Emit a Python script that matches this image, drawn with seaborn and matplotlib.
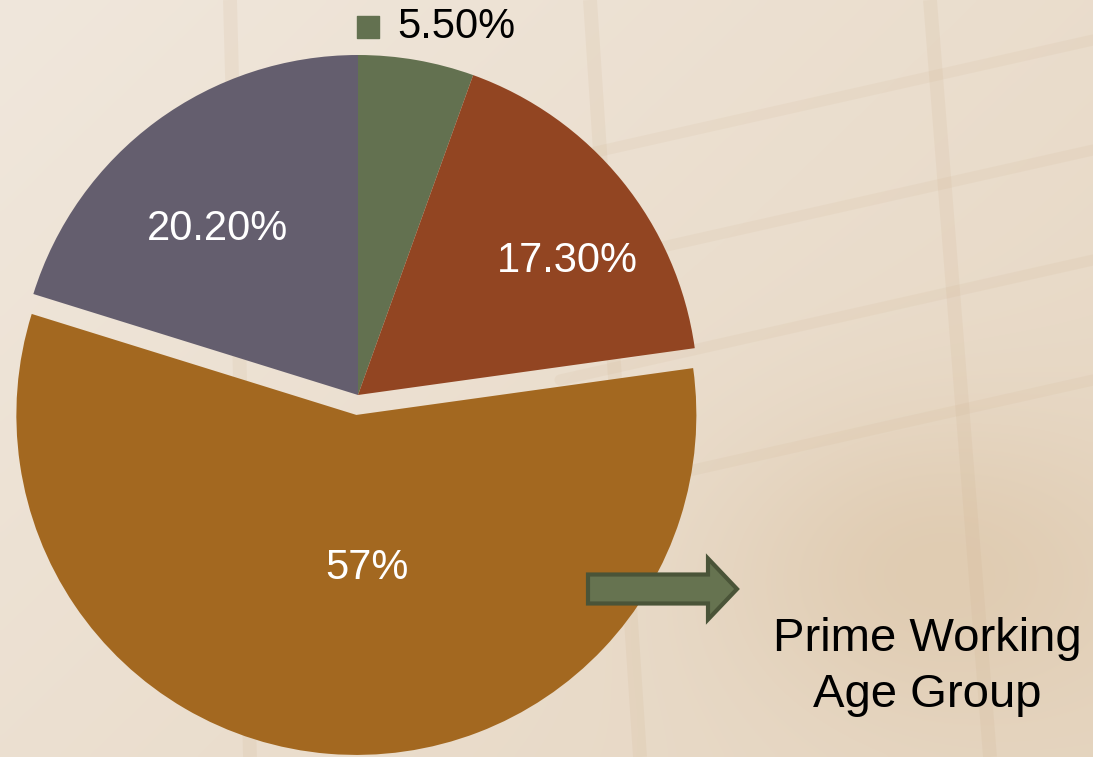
import matplotlib

matplotlib.use("Agg")
import matplotlib.pyplot as plt
import matplotlib.patches as mpatches
import numpy as np
import seaborn as sns

# ----------------------------------------------------------------------
# Data
# ----------------------------------------------------------------------
shares = [5.5, 17.3, 57.0, 20.2]
share_labels = ["5.50%", "17.30%", "57%", "20.20%"]
slice_colors = ["#637150", "#924522", "#A36820", "#645E6E"]
explode_px = [0, 0, 20, 0]  # matplotlib explode is in data units (pixels here)
callout_text = "Prime Working\nAge Group"

# figure geometry in pixels (1093 x 757 canvas)
W, H = 1093, 757
PIE_CENTER = (358, H - 395)
PIE_RADIUS = 340

sns.set_theme(style="white")
plt.rcParams["font.family"] = ["Liberation Sans", "DejaVu Sans"]

fig = plt.figure(figsize=(W / 100, H / 100), dpi=100)
ax = fig.add_axes([0, 0, 1, 1])

# soft beige backdrop (stands in for the blurred photo)
yy, xx = np.mgrid[0:1:200j, 0:1:300j]
shade = 0.35 * xx + 0.25 * yy + 0.45 * np.exp(-((xx - 0.85) ** 2 + (yy - 0.75) ** 2) / 0.04)
light = np.array([240, 231, 220]) / 255
dark = np.array([224, 204, 178]) / 255
bg = light + (dark - light) * np.clip(shade / shade.max(), 0, 1)[..., None]
ax.imshow(bg, extent=[0, W, 0, H], origin="upper", zorder=0, interpolation="bicubic")
for x0, x1 in [(590, 640), (930, 990), (230, 250)]:
    ax.plot([x0, x1], [H, 0], color="#C9A882", alpha=0.12, lw=10, zorder=0.5,
            solid_capstyle="butt")
for y0 in [80, 190, 300, 420]:
    ax.plot([560, W], [H - y0 - 80, H - y0 + 40], color="#C9A882", alpha=0.10, lw=8, zorder=0.5)

wedges, _ = ax.pie(
    shares,
    colors=slice_colors,
    explode=explode_px,
    startangle=90,
    counterclock=False,
    center=PIE_CENTER,
    radius=PIE_RADIUS,
    frame=True,
    wedgeprops={"linewidth": 0},
)
ax.set_xlim(0, W)
ax.set_ylim(0, H)
ax.set_aspect("equal")
ax.axis("off")

# in-slice labels: radial distance and angular nudge per slice
label_dist = [None, 0.73, 0.45, 0.64]
label_nudge = [0, -6.5, 8.8, 4.0]
for wedge, text, dist, nudge in zip(wedges, share_labels, label_dist, label_nudge):
    if dist is None:
        continue
    ang = np.deg2rad((wedge.theta1 + wedge.theta2) / 2 + nudge)
    cx, cy = wedge.center
    ax.text(cx + dist * PIE_RADIUS * np.cos(ang), cy + dist * PIE_RADIUS * np.sin(ang),
            text, color="white", fontsize=30, ha="center", va="center", zorder=5)

# small slice gets a legend-style label above the pie
ax.scatter([368], [H - 27], marker="s", s=250, color=slice_colors[0], zorder=5)
ax.text(397, H - 27, share_labels[0], color="black", fontsize=30, ha="left", va="center", zorder=5)

# callout arrow and text
arrow = mpatches.FancyArrow(588, H - 589, 120, 0, width=29, head_width=61, head_length=29,
                            length_includes_head=False, facecolor="#667350",
                            edgecolor="#4A5438", linewidth=3, zorder=6)
ax.add_patch(arrow)
ax.text(927, H - 667, callout_text, color="black", fontsize=34, ha="center", va="center",
        linespacing=1.37, zorder=5)

fig.savefig("out.png", dpi=100)
